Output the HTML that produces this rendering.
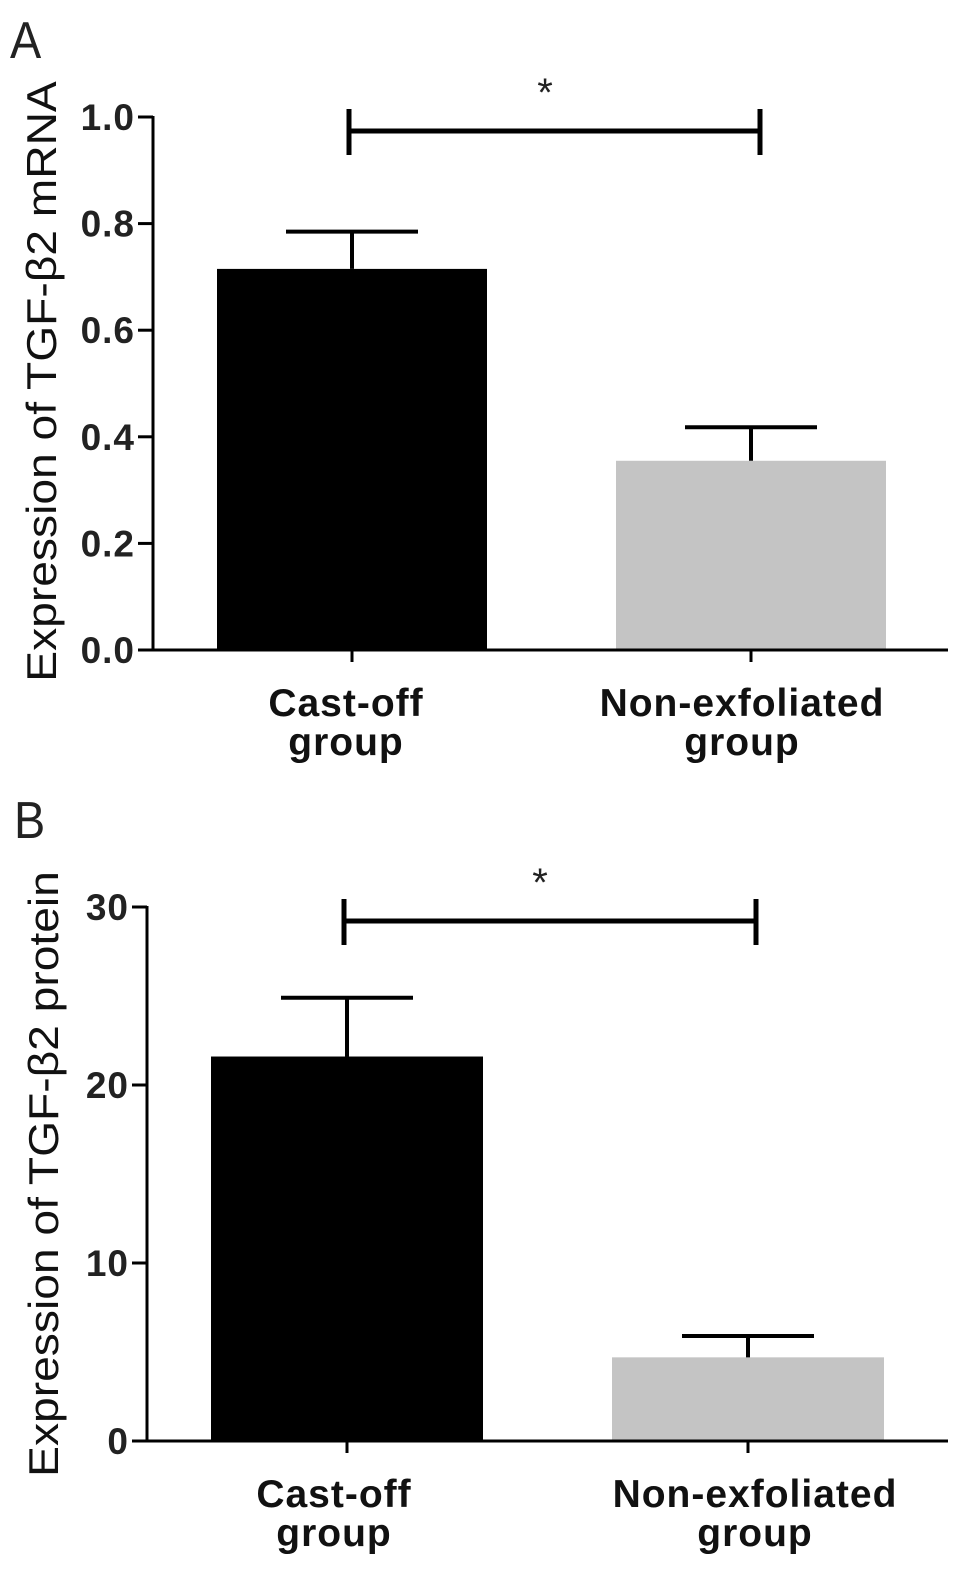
<!DOCTYPE html>
<html><head><meta charset="utf-8"><style>
html,body{margin:0;padding:0;background:#fff;}
svg{display:block;font-family:"Liberation Sans",sans-serif;}
</style></head><body>
<svg id="fig" width="969" height="1571" viewBox="0 0 969 1571" xmlns="http://www.w3.org/2000/svg"></svg>
<script>
const categories = ["Cast-off|group", "Non-exfoliated|group"];
const mrnaValues = [0.715, 0.355];
const mrnaErrors = [0.07, 0.063];
const mrnaTicks = [0, 0.2, 0.4, 0.6, 0.8, 1.0];
const mrnaTickLabels = ["0.0", "0.2", "0.4", "0.6", "0.8", "1.0"];
const proteinValues = [21.6, 4.7];
const proteinErrors = [3.3, 1.2];
const proteinTicks = [0, 10, 20, 30];
const proteinTickLabels = ["0", "10", "20", "30"];
const barColors = ["#000000", "#c4c4c4"];

const NS = "http://www.w3.org/2000/svg";
const svg = document.getElementById("fig");
function mk(tag, attrs, parent) {
  const e = document.createElementNS(NS, tag);
  for (const k in attrs) e.setAttribute(k, attrs[k]);
  (parent || svg).appendChild(e);
  return e;
}

function panel(cfg) {
  const g = mk("g", {});
  
  
  const y = v => cfg.y0 - (v - cfg.min) / (cfg.max - cfg.min) * (cfg.y0 - cfg.y1);
  const L = mk("text", {x: cfg.letterX, y: cfg.letterY, "font-size": 52, fill: "#222", transform: `translate(${cfg.letterX},0) scale(0.9,1) translate(${-cfg.letterX},0)`}, g);
  L.textContent = cfg.letter;
  
  
  const cy = (cfg.y0 + cfg.y1) / 2 + cfg.titleDy;
  const T = mk("text", {x: 0, y: 0, "font-size": 42, "text-anchor": "middle", fill: "#111",
    transform: `translate(${cfg.titleX},${cy}) rotate(-90) scale(1.1,1)`}, g);
  T.textContent = cfg.title;
  
  
  cfg.values.forEach((v, i) => {
    const cx = cfg.cats[i];
    const r = mk("rect", {x: cx - cfg.bw / 2, y: y(v), width: cfg.bw, height: cfg.y0 - y(v), fill: barColors[i]}, g);
    
    
    const et = y(v + cfg.errors[i]);
    const e = mk("path", {d: `M${cx},${y(v)}V${et}M${cx - 66},${et}H${cx + 66}`, stroke: "#000", "stroke-width": 4, fill: "none"}, g);
    
    
    const tk = mk("line", {x1: cx, x2: cx, y1: cfg.y0, y2: cfg.y0 + 12, stroke: "#000", "stroke-width": 3}, g);
    
    
    const parts = categories[i].split("|");
    parts.forEach((p, j) => {
      const t = mk("text", {x: cfg.labelX[i], y: cfg.labelY + j * 39, "font-size": 39, "font-weight": "bold", "letter-spacing": 1, "text-anchor": "middle", fill: "#111"}, g);
      t.textContent = p;
      
      
    });
  });
  const ax = mk("path", {d: `M${cfg.ax},${cfg.y1 - 1}V${cfg.y0}H${cfg.xEnd}`, stroke: "#000", "stroke-width": 3, fill: "none"}, g);
  
  
  cfg.ticks.forEach((tv, i) => {
    const ty = y(tv);
    const l = mk("line", {x1: cfg.ax - 15, x2: cfg.ax, y1: ty, y2: ty, stroke: "#000", "stroke-width": 3}, g);
    
    
    const t = mk("text", {x: cfg.ax - 18, y: ty + 13, "font-size": 37, "font-weight": "bold", "letter-spacing": 1, "text-anchor": "end", fill: "#222"}, g);
    t.textContent = cfg.tickLabels[i];
    
    
  });
  const s = mk("path", {d: `M${cfg.sig[0]},${cfg.sigY - 22}V${cfg.sigY + 24}M${cfg.sig[0]},${cfg.sigY}H${cfg.sig[1]}M${cfg.sig[1]},${cfg.sigY - 22}V${cfg.sigY + 24}`, stroke: "#000", "stroke-width": 5, fill: "none"}, g);
  
  
  const st = mk("text", {x: cfg.starX, y: cfg.sigY - 25, "font-size": 40, "text-anchor": "middle", fill: "#222"}, g);
  st.textContent = "*";
  
  
}

panel({name: "panel-a-mrna", letter: "A", letterX: 10, letterY: 58, title: "Expression of TGF-β2 mRNA", titleX: 56, titleDy: -2,
  y0: 650, y1: 117, min: 0, max: 1, ax: 153, xEnd: 948, cats: [352, 751], bw: 270,
  values: mrnaValues, errors: mrnaErrors, ticks: mrnaTicks, tickLabels: mrnaTickLabels,
  labelX: [346, 742], labelY: 716, sig: [349, 760], sigY: 131, starX: 545});
panel({name: "panel-b-protein", letter: "B", letterX: 14, letterY: 838, title: "Expression of TGF-β2 protein", titleX: 58, titleDy: 0,
  y0: 1441, y1: 907, min: 0, max: 30, ax: 147, xEnd: 948, cats: [347, 748], bw: 272,
  values: proteinValues, errors: proteinErrors, ticks: proteinTicks, tickLabels: proteinTickLabels,
  labelX: [334, 755], labelY: 1507, sig: [344, 756], sigY: 921, starX: 540});
</script>
</body></html>
